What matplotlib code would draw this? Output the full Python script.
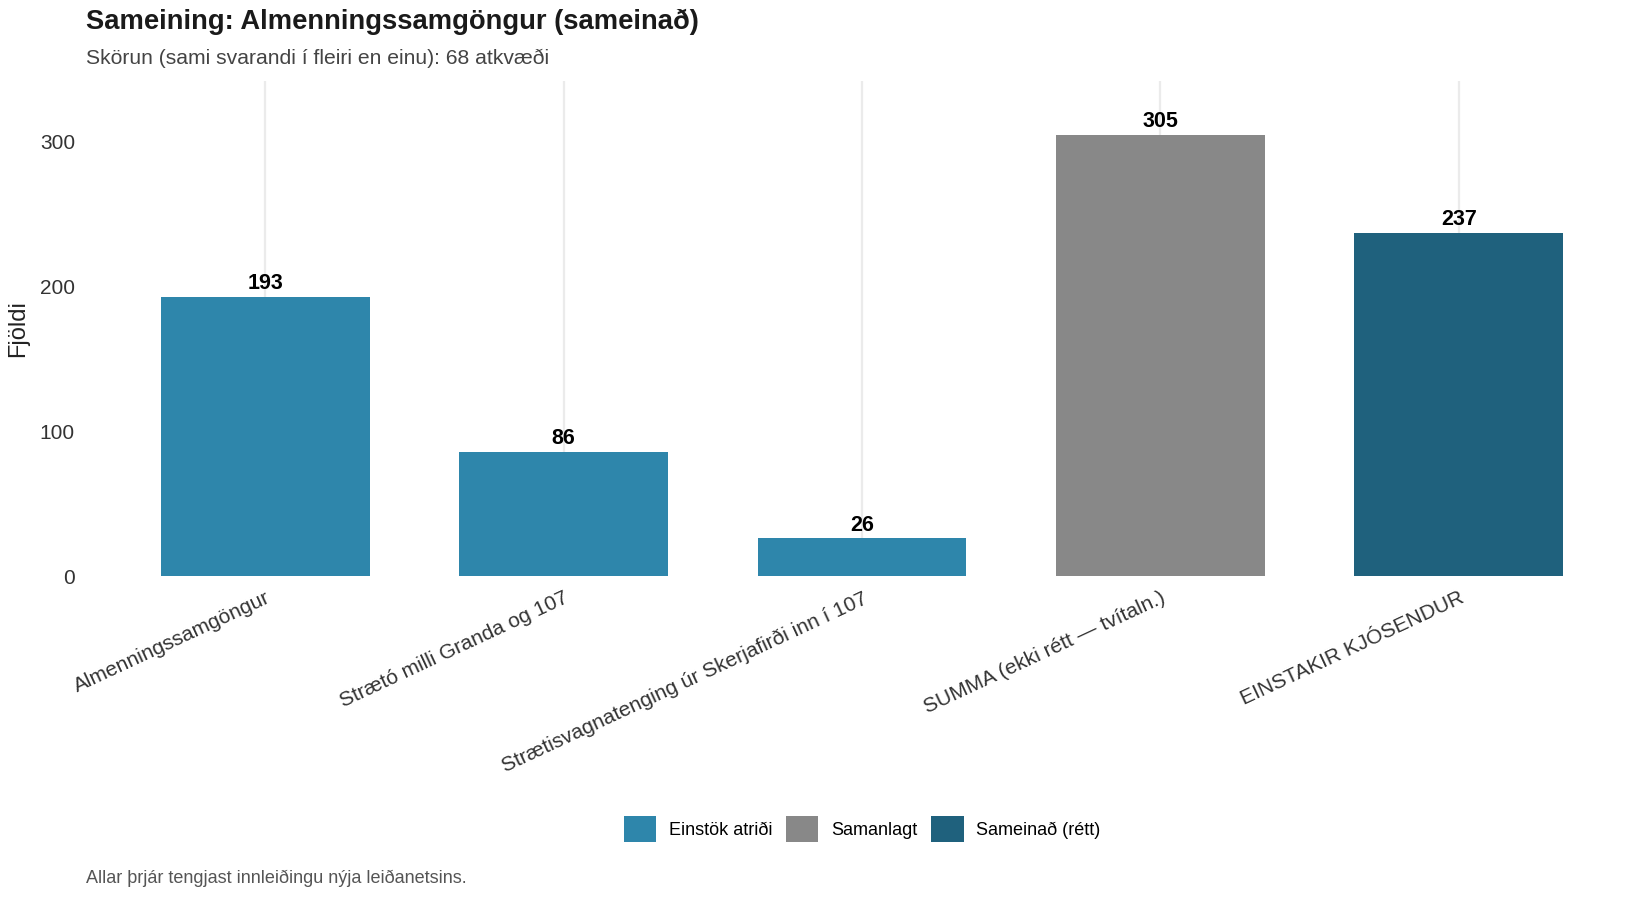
import matplotlib.pyplot as plt
from matplotlib.patches import Patch

plt.rcParams["font.family"] = ["Liberation Sans", "DejaVu Sans"]

categories = [
    "Almenningssamgöngur",
    "Strætó milli Granda og 107",
    "Strætisvagnatenging úr Skerjafirði inn í 107",
    "SUMMA (ekki rétt — tvítaln.)",
    "EINSTAKIR KJÓSENDUR",
]
values = [193, 86, 26, 305, 237]
groups = ["Einstök atriði", "Einstök atriði", "Einstök atriði", "Samanlagt", "Sameinað (rétt)"]

group_colors = {
    "Einstök atriði": "#2E86AB",
    "Samanlagt": "#888888",
    "Sameinað (rétt)": "#1F617D",
}

W, H = 1650, 900
fig = plt.figure(figsize=(W / 100, H / 100), dpi=100)
ax = fig.add_axes([86 / W, 1 - 576 / H, (1638 - 86) / W, (576 - 81) / H])

x = list(range(len(categories)))
ax.bar(x, values, width=0.7, color=[group_colors[g] for g in groups], zorder=2)

for xi, v in zip(x, values):
    ax.annotate(str(v), (xi, v), xytext=(0, 2), textcoords="offset points",
                ha="center", va="bottom", fontsize=15.5, fontweight="bold", color="black")

ax.set_xlim(-0.6, len(categories) - 0.4)
ax.set_ylim(0, 342)
ax.set_yticks([0, 100, 200, 300])
ax.set_xticks(x)
ax.set_xticklabels(categories, rotation=25, ha="right", va="top", rotation_mode="anchor")
ax.tick_params(axis="both", length=0, labelsize=15, labelcolor="#333333")
ax.tick_params(axis="x", pad=9)
ax.tick_params(axis="y", pad=8)
ax.grid(axis="x", color="#EBEBEB", linewidth=1.6, zorder=0)
ax.grid(axis="y", visible=False)
for s in ax.spines.values():
    s.set_visible(False)

ax.set_ylabel("Fjöldi", fontsize=17, color="#222222")
ax.yaxis.set_label_coords(-57 / (1638 - 86), 0.5)

fig.text(86 / W, 1 - 22 / H, "Sameining: Almenningssamgöngur (sameinað)",
         fontsize=19.7, fontweight="bold", color="#1a1a1a", ha="left", va="center")
fig.text(86 / W, 1 - 58 / H, "Skörun (sami svarandi í fleiri en einu): 68 atkvæði",
         fontsize=15.2, color="#444444", ha="left", va="center")
fig.text(86 / W, 1 - 878 / H, "Allar þrjár tengjast innleiðingu nýja leiðanetsins.",
         fontsize=13, color="#555555", ha="left", va="center")

handles = [Patch(facecolor=c, label=g) for g, c in group_colors.items()]
fig.legend(handles=handles, loc="center", bbox_to_anchor=(862 / W, 1 - 829 / H),
           ncol=3, frameon=False, fontsize=13, handlelength=1.8, handleheight=1.8,
           handletextpad=0.7, columnspacing=0.76)

fig.savefig("out.png", dpi=100)
